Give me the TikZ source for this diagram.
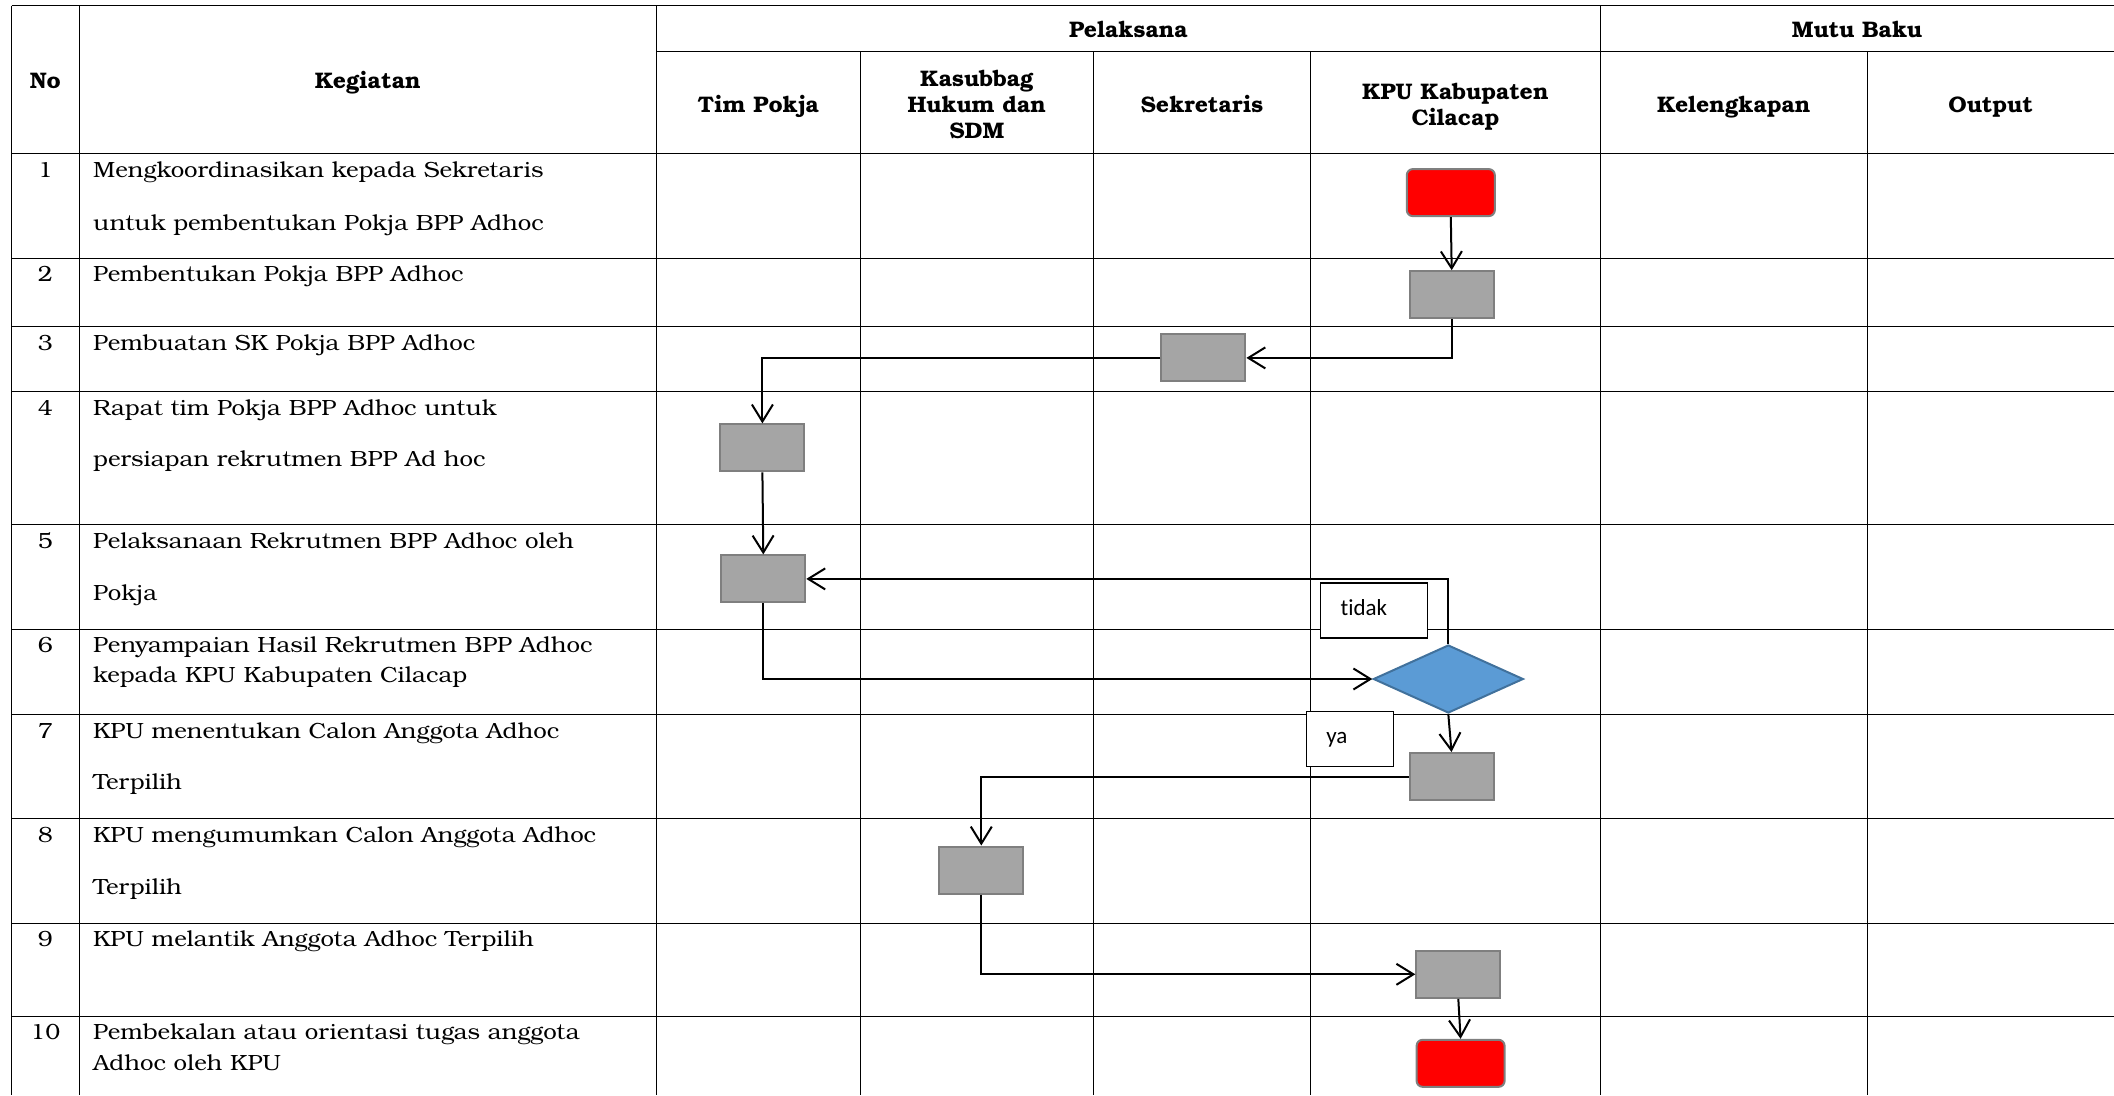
\documentclass[tikz,border=0pt]{standalone}
\usepackage{fontspec}
\setmainfont{texgyrebonum}[Extension=.otf,UprightFont=*-regular,BoldFont=*-bold,UprightFeatures={FakeStretch=1.09},BoldFeatures={FakeStretch=1.02}]
\newfontfamily\calib{Carlito}[Ligatures=NoCommon]
\usetikzlibrary{arrows.meta,shapes.geometric}
\newcommand\tf{\fontsize{22}{26}\selectfont}
\newcommand\hf{\fontsize{22.5}{26}\selectfont}
\definecolor{boxfill}{HTML}{A5A5A5}
\definecolor{boxedge}{HTML}{7F7F7F}
\definecolor{decfill}{HTML}{5B9BD5}
\definecolor{decedge}{HTML}{41719C}
\tikzset{
 grid/.style={line width=1pt, draw=black},
 txt/.style={anchor=base west, inner sep=0pt, font=\tf},
 num/.style={anchor=base, inner sep=0pt, font=\tf},
 hdr/.style={anchor=base, inner sep=0pt, font=\hf\bfseries},
 proc/.style={draw=boxedge, fill=boxfill, line width=2pt, minimum width=84pt, minimum height=47pt, inner sep=0pt},
 term/.style={proc, fill=red, rounded corners=6pt, minimum width=88pt},
 dec/.style={diamond, draw=decedge, fill=decfill, line width=2pt, minimum width=150pt, minimum height=68pt, inner sep=0pt},
 flow/.style={line width=2pt, -{Straight Barb[length=17pt,width=21pt]}},
 lbl/.style={draw=black, fill=white, line width=1.3pt, font=\calib\fontsize{23}{26}\selectfont, anchor=north west, inner xsep=20pt, inner ysep=0pt, text height=15pt, text depth=5pt, align=left}
}
\begin{document}
\begin{tikzpicture}[x=1pt,y=-1pt]
\useasboundingbox (0,0) rectangle (2114,1095);
% ---- table grid
\foreach \yy in {5.7,153.5,258.5,326.5,391,524.7,629,714.7,818.5,923.5,1016}
  \draw[grid] (11.7,\yy) -- (2114,\yy);
\draw[grid] (656.6,51.5) -- (2114,51.5);
\foreach \xx in {11.7,79,656.6,1600.3}
  \draw[grid] (\xx,5.7) -- (\xx,1095);
\foreach \xx in {860.2,1093.4,1310.5,1867.3}
  \draw[grid] (\xx,51.5) -- (\xx,1095);
% ---- headers
\node[hdr] (hno) at (45.3,88) {No};
\node[hdr] (hkeg) at (367.8,88) {Kegiatan};
\node[hdr] (hpel) at (1128.4,37) {Pelaksana};
\node[hdr] (hmutu) at (1857,37) {Mutu Baku};
\node[hdr] (htim) at (758.4,112) {Tim Pokja};
\node[hdr] (hkas1) at (976.8,86) {Kasubbag};
\node[hdr] (hkas2) at (976.8,112) {Hukum dan};
\node[hdr] (hkas3) at (976.8,138) {SDM};
\node[hdr] (hsek) at (1202,112) {Sekretaris};
\node[hdr] (hkpu1) at (1455.4,99) {KPU Kabupaten};
\node[hdr] (hkpu2) at (1455.4,125) {Cilacap};
\node[hdr] (hkel) at (1733.8,112) {Kelengkapan};
\node[hdr] (hout) at (1990.6,112) {Output};
% ---- numbers
\node[num] (n1) at (45.3,177.3) {1};
\node[num] (n2) at (45.3,281.7) {2};
\node[num] (n3) at (45.3,350) {3};
\node[num] (n4) at (45.3,415) {4};
\node[num] (n5) at (45.3,548.3) {5};
\node[num] (n6) at (45.3,652.7) {6};
\node[num] (n7) at (45.3,738.3) {7};
\node[num] (n8) at (45.3,842.7) {8};
\node[num] (n9) at (45.3,946.7) {9};
\node[num] (n10) at (45.3,1039.3) {10};
% ---- activities
\node[txt] (k1a) at (93,177.3) {Mengkoordinasikan kepada Sekretaris};
\node[txt] (k1b) at (93,230) {untuk pembentukan Pokja BPP Adhoc};
\node[txt] (k2) at (93,281.7) {Pembentukan Pokja BPP Adhoc};
\node[txt] (k3) at (93,350) {Pembuatan SK Pokja BPP Adhoc};
\node[txt] (k4a) at (93,415) {Rapat tim Pokja BPP Adhoc untuk};
\node[txt] (k4b) at (93,466.7) {persiapan rekrutmen BPP Ad hoc};
\node[txt] (k5a) at (93,548.3) {Pelaksanaan Rekrutmen BPP Adhoc oleh};
\node[txt] (k5b) at (93,600) {Pokja};
\node[txt] (k6a) at (93,652.7) {Penyampaian Hasil Rekrutmen BPP Adhoc};
\node[txt] (k6b) at (93,682.7) {kepada KPU Kabupaten Cilacap};
\node[txt] (k7a) at (93,738.3) {KPU menentukan Calon Anggota Adhoc};
\node[txt] (k7b) at (93,789.3) {Terpilih};
\node[txt] (k8a) at (93,842.7) {KPU mengumumkan Calon Anggota Adhoc};
\node[txt] (k8b) at (93,894) {Terpilih};
\node[txt] (k9) at (93,946.7) {KPU melantik Anggota Adhoc Terpilih};
\node[txt] (k10a) at (93,1039.3) {Pembekalan atau orientasi tugas anggota};
\node[txt] (k10b) at (93,1070) {Adhoc oleh KPU};
% ---- flow shapes
\node[term] (b1) at (1450.8,192.6) {};
\node[proc] (b2) at (1451.7,294.7) {};
\node[proc] (b3) at (1203.4,357.9) {};
\node[proc] (b4) at (762.4,447.9) {};
\node[proc] (b5) at (763.3,578.9) {};
\node[dec] (d6) at (1448.3,679) {};
\node[proc] (b7) at (1451.5,776.5) {};
\node[proc] (b8) at (981.3,870) {};
\node[proc] (b9) at (1458.3,974.3) {};
\node[term] (b10) at (1460.6,1063.3) {};
% ---- labels
\node[lbl, minimum width=107pt, minimum height=55pt, text width=67pt] (ltidak) at (1320,582.3) {tidak};
\node[lbl, minimum width=87pt, minimum height=55pt, text width=47pt] (lya) at (1305.7,710.7) {ya};
% ---- connectors
\draw[flow] (b1.south) -- (b2.north);
\draw[flow] (b2.south) |- (b3.east);
\draw[flow] (b3.west) -| (b4.north);
\draw[flow] (b4.south) -- (b5.north);
\draw[flow] (b5.south) |- (d6.west);
\draw[flow] (d6.north) |- (b5.east);
\draw[flow] (d6.south) -- (b7.north);
\draw[flow] (b7.west) -| (b8.north);
\draw[flow] (b8.south) |- (b9.west);
\draw[flow] (b9.south) -- (b10.north);
\end{tikzpicture}
\end{document}
